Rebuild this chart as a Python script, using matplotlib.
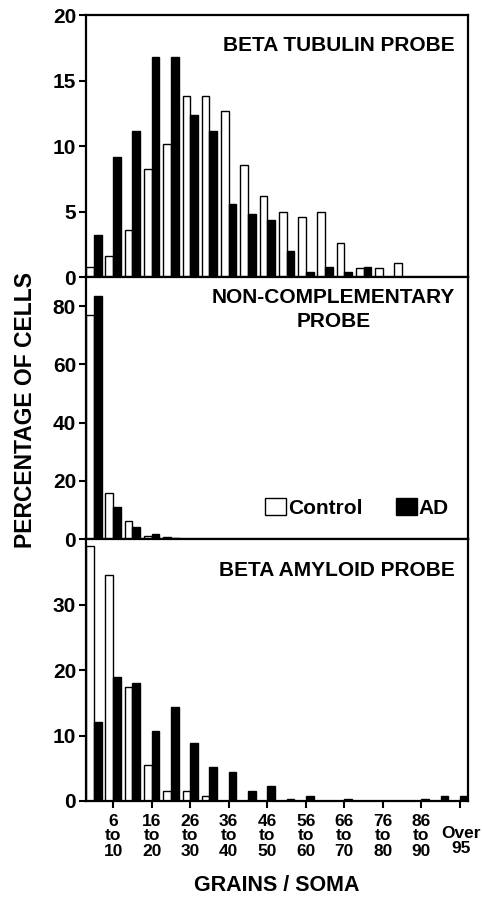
import matplotlib.pyplot as plt
import numpy as np

# 每个区间 5 个颗粒, 最后一个是 "Over 95"
bins = ['1-5', '6-10', '11-15', '16-20', '21-25', '26-30', '31-35', '36-40',
        '41-45', '46-50', '51-55', '56-60', '61-65', '66-70', '71-75', '76-80',
        '81-85', '86-90', '91-95', 'Over 95']

tick_labels = ['6\nto\n10', '16\nto\n20', '26\nto\n30', '36\nto\n40', '46\nto\n50',
               '56\nto\n60', '66\nto\n70', '76\nto\n80', '86\nto\n90']

tubulin_control = [0.8, 1.6, 3.6, 8.3, 10.2, 13.8, 13.8, 12.7, 8.6, 6.2,
                   5.0, 4.6, 5.0, 2.6, 0.7, 0.7, 1.1, 0, 0, 0]
tubulin_ad = [3.2, 9.2, 11.2, 16.8, 16.8, 12.4, 11.2, 5.6, 4.8, 4.4,
              2.0, 0.4, 0.8, 0.4, 0.8, 0, 0, 0, 0, 0]

noncomp_control = [77.0, 15.8, 6.2, 0.9, 0.6, 0, 0, 0, 0, 0,
                   0, 0, 0, 0, 0, 0, 0, 0, 0, 0]
noncomp_ad = [83.4, 11.2, 4.0, 1.8, 0.5, 0, 0, 0, 0, 0,
              0, 0, 0, 0, 0, 0, 0, 0, 0, 0]

amyloid_control = [39.0, 34.5, 17.4, 5.5, 1.5, 1.5, 0.8, 0, 0, 0,
                   0, 0, 0, 0, 0, 0, 0, 0, 0, 0]
amyloid_ad = [12.1, 18.9, 18.0, 10.7, 14.4, 8.8, 5.2, 4.4, 1.5, 2.3,
              0.35, 0.8, 0, 0.35, 0, 0, 0, 0.35, 0.8, 0.8]

plt.rcParams['font.family'] = ['Liberation Sans', 'DejaVu Sans']
plt.rcParams['font.weight'] = 'bold'
plt.rcParams['axes.labelweight'] = 'bold'

fig = plt.figure(figsize=(4.82, 9.0), dpi=100)
gs = fig.add_gridspec(3, 1, hspace=0, left=0.178, right=0.971, top=0.983, bottom=0.110)
axes = [fig.add_subplot(gs[i]) for i in range(3)]

x = np.arange(len(bins))
w = 0.4

panels = [
    (tubulin_control, tubulin_ad, 20, [0, 5, 10, 15, 20], 'BETA TUBULIN PROBE', 0.92),
    (noncomp_control, noncomp_ad, 90, [0, 20, 40, 60, 80], 'NON-COMPLEMENTARY\nPROBE', 0.96),
    (amyloid_control, amyloid_ad, 40, [0, 10, 20, 30], 'BETA AMYLOID PROBE', 0.915),
]

for ax, (ctrl, ad, ymax, yt, title, ty) in zip(axes, panels):
    ax.bar(x - w / 2, ctrl, w, color='white', edgecolor='black', linewidth=1.0, label='Control')
    ax.bar(x + w / 2, ad, w, color='black', edgecolor='black', linewidth=1.0, label='AD')
    ax.set_xlim(-0.42, 19.42)
    ax.set_ylim(0, ymax)
    ax.set_yticks(yt)
    ax.set_xticks(np.arange(1, 20, 2))
    ax.tick_params(direction='out', length=5, width=1.5, labelsize=15, pad=2)
    for s in ax.spines.values():
        s.set_linewidth(1.6)
    ax.text(0.966, ty, title, transform=ax.transAxes, ha='right', va='top',
            fontsize=15, multialignment='center', linespacing=1.35)

for ax in axes[:2]:
    ax.set_xticklabels([])

axes[2].set_xticklabels(tick_labels + [''], fontsize=12.5, linespacing=1.0)
axes[2].tick_params(axis='x', pad=4)
axes[2].text(19.05, -0.153, 'Over\n95', transform=axes[2].get_xaxis_transform(),
             ha='center', va='center', fontsize=12.5, linespacing=1.0)

axes[1].legend(loc='center right', bbox_to_anchor=(0.95, 0.12), ncol=2, frameon=False,
               fontsize=15, handlelength=1.0, handleheight=0.9, handletextpad=0.1,
               columnspacing=1.6, borderpad=0, borderaxespad=0)

axes[2].set_xlabel('GRAINS / SOMA', fontsize=15.5, labelpad=12)
fig.text(0.052, 0.545, 'PERCENTAGE OF CELLS', rotation=90, ha='center', va='center', fontsize=16.5)

fig.savefig('out.png', dpi=100)
plt.close(fig)
